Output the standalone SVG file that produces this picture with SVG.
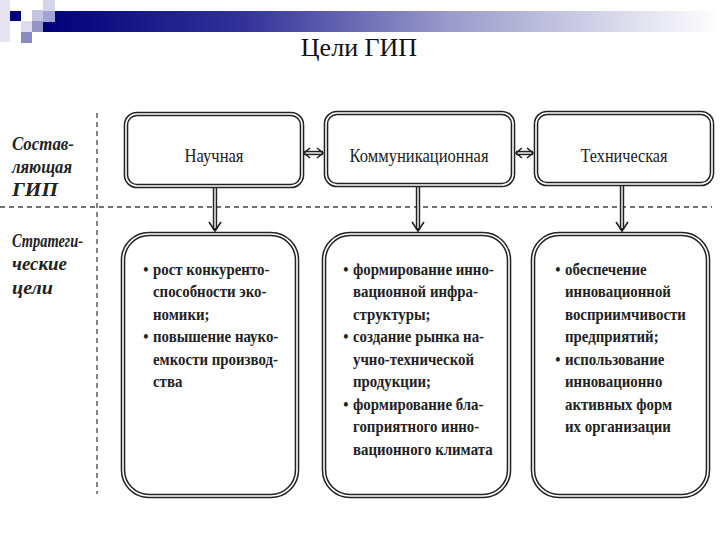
<svg xmlns="http://www.w3.org/2000/svg" width="720" height="540" viewBox="0 0 720 540">
<defs>
<linearGradient id="bar" x1="0" y1="0" x2="1" y2="0">
<stop offset="0" stop-color="#00007a"/>
<stop offset="0.3" stop-color="#33339a"/>
<stop offset="0.6" stop-color="#9a9acb"/>
<stop offset="1" stop-color="#ffffff"/>
</linearGradient>
<style>
.outer{fill:#fff;stroke:#222;stroke-width:4.6}
.inner{fill:none;stroke:#fff;stroke-width:1.6}
.dash{stroke:#444;stroke-width:1.3;stroke-dasharray:5 4;fill:none}
.lab{font-family:'Liberation Serif',serif;font-style:italic;font-weight:bold;font-size:19px;fill:#222}
.top{font-family:'Liberation Serif',serif;font-size:19.5px;fill:#222;text-anchor:middle}
.body{font-family:'Liberation Serif',serif;font-weight:bold;font-size:17.5px;fill:#222}
.shaft{stroke:#222;stroke-width:4.4;fill:none}
.shaftin{stroke:#fff;stroke-width:1.4;fill:none}
.head{fill:none;stroke:#222;stroke-width:1.6}
</style>
</defs>
<rect width="720" height="540" fill="#fff"/>
<g id="header">
<rect x="0" y="0" width="10" height="42" fill="#e4e4f0"/>
<rect x="43" y="11" width="677" height="21" fill="url(#bar)"/>
<rect x="10" y="11" width="11" height="10" fill="#00007a"/>
<rect x="43" y="0" width="12" height="11" fill="#d4d4ea"/>
<rect x="32" y="10" width="11" height="11" fill="#c4c4e0"/>
<rect x="43" y="11" width="12" height="11" fill="#a4a4d2"/>
<rect x="21" y="21" width="11" height="11" fill="#dcdcee"/>
<rect x="32" y="21" width="11" height="11" fill="#9494c8"/>
<rect x="21" y="32" width="11" height="11" fill="#8888c2"/>
<text x="359" y="56" font-family="'Liberation Serif', serif" font-size="26" text-anchor="middle" fill="#111">Цели ГИП</text>
</g>
<g id="grid">
<line class="dash" x1="97" y1="113" x2="97" y2="494"/>
<line class="dash" x1="0" y1="207" x2="712" y2="207"/>
<text class="lab" x="12" y="150" textLength="62" lengthAdjust="spacingAndGlyphs">Состав-</text>
<text class="lab" x="12" y="173" textLength="60" lengthAdjust="spacingAndGlyphs">ляющая</text>
<text class="lab" x="12" y="196" textLength="46" lengthAdjust="spacingAndGlyphs">ГИП</text>
<text class="lab" x="12" y="247" textLength="71" lengthAdjust="spacingAndGlyphs">Стратеги-</text>
<text class="lab" x="12" y="270" textLength="55" lengthAdjust="spacingAndGlyphs">ческие</text>
<text class="lab" x="12" y="294" textLength="41" lengthAdjust="spacingAndGlyphs">цели</text>
</g>
<g id="connectors">
<line class="shaft" x1="304" y1="153" x2="323" y2="153"/>
<line class="shaftin" x1="304" y1="153" x2="323" y2="153"/>
<polyline class="head" points="310,148 304,153 310,158"/>
<polyline class="head" points="317,148 323,153 317,158"/>
<line class="shaft" x1="516" y1="153" x2="533" y2="153"/>
<line class="shaftin" x1="516" y1="153" x2="533" y2="153"/>
<polyline class="head" points="522,148 516,153 522,158"/>
<polyline class="head" points="527,148 533,153 527,158"/>
<line class="shaft" x1="215" y1="188" x2="215" y2="230"/>
<line class="shaftin" x1="215" y1="188" x2="215" y2="228"/>
<polyline class="head" points="209,222 215,231 221,222"/>
<line class="shaft" x1="418" y1="187" x2="418" y2="230"/>
<line class="shaftin" x1="418" y1="187" x2="418" y2="228"/>
<polyline class="head" points="412,222 418,231 424,222"/>
<line class="shaft" x1="622" y1="186" x2="622" y2="230"/>
<line class="shaftin" x1="622" y1="186" x2="622" y2="228"/>
<polyline class="head" points="616,222 622,231 628,222"/>
</g>
<g id="n-nauchnaya">
<rect class="outer" x="126" y="114" width="176" height="72" rx="11"/>
<rect class="inner" x="126" y="114" width="176" height="72" rx="11"/>
<text class="top" x="214" y="162" textLength="59" lengthAdjust="spacingAndGlyphs">Научная</text>
</g>
<g id="n-kommunikacionnaya">
<rect class="outer" x="326" y="113" width="187" height="72" rx="11"/>
<rect class="inner" x="326" y="113" width="187" height="72" rx="11"/>
<text class="top" x="419" y="162" textLength="139" lengthAdjust="spacingAndGlyphs">Коммуникационная</text>
</g>
<g id="n-tehnicheskaya">
<rect class="outer" x="536" y="113" width="176" height="71" rx="11"/>
<rect class="inner" x="536" y="113" width="176" height="71" rx="11"/>
<text class="top" x="624" y="162" textLength="87" lengthAdjust="spacingAndGlyphs">Техническая</text>
</g>
<g id="g-nauchnaya">
<rect class="outer" x="123" y="234" width="174" height="262" rx="26"/>
<rect class="inner" x="123" y="234" width="174" height="262" rx="26"/>
<g transform="translate(153,0) scale(0.85,1)">
<text class="body" x="-11.5" y="275">•</text>
<text class="body" x="0" y="275">рост конкуренто-</text>
<text class="body" x="0" y="297.5">способности эко-</text>
<text class="body" x="0" y="320">номики;</text>
<text class="body" x="-11.5" y="342.5">•</text>
<text class="body" x="0" y="342.5">повышение науко-</text>
<text class="body" x="0" y="365">емкости производ-</text>
<text class="body" x="0" y="387.5">ства</text>
</g>
</g>
<g id="g-kommunikacionnaya">
<rect class="outer" x="324" y="234" width="185" height="262" rx="26"/>
<rect class="inner" x="324" y="234" width="185" height="262" rx="26"/>
<g transform="translate(353,0) scale(0.85,1)">
<text class="body" x="-11.5" y="275">•</text>
<text class="body" x="0" y="275">формирование инно-</text>
<text class="body" x="0" y="297.5">вационной инфра-</text>
<text class="body" x="0" y="320">структуры;</text>
<text class="body" x="-11.5" y="342.5">•</text>
<text class="body" x="0" y="342.5">создание рынка на-</text>
<text class="body" x="0" y="365">учно-технической</text>
<text class="body" x="0" y="387.5">продукции;</text>
<text class="body" x="-11.5" y="410">•</text>
<text class="body" x="0" y="410">формирование бла-</text>
<text class="body" x="0" y="432.5">гоприятного инно-</text>
<text class="body" x="0" y="455">вационного климата</text>
</g>
</g>
<g id="g-tehnicheskaya">
<rect class="outer" x="533" y="234" width="175" height="262" rx="26"/>
<rect class="inner" x="533" y="234" width="175" height="262" rx="26"/>
<g transform="translate(565,0) scale(0.85,1)">
<text class="body" x="-11.5" y="275">•</text>
<text class="body" x="0" y="275">обеспечение</text>
<text class="body" x="0" y="297.5">инновационной</text>
<text class="body" x="0" y="320">восприимчивости</text>
<text class="body" x="0" y="342.5">предприятий;</text>
<text class="body" x="-11.5" y="365">•</text>
<text class="body" x="0" y="365">использование</text>
<text class="body" x="0" y="387.5">инновационно</text>
<text class="body" x="0" y="410">активных форм</text>
<text class="body" x="0" y="432.5">их организации</text>
</g>
</g>
</svg>
